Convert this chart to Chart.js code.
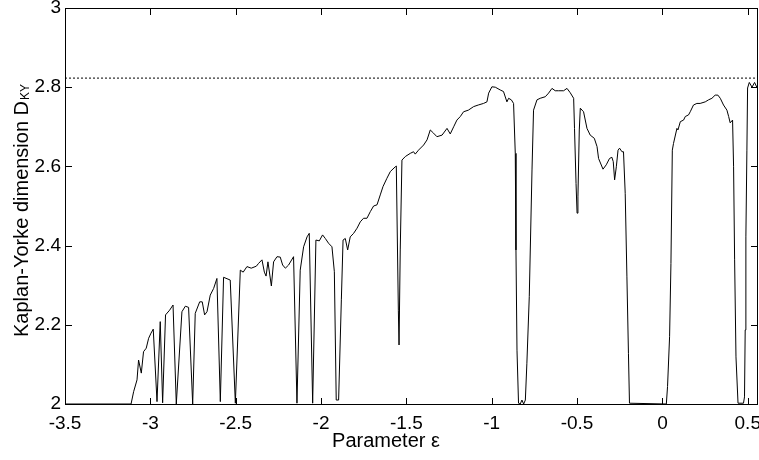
<!DOCTYPE html>
<html lang="en">
<head>
    <meta charset="UTF-8">
    <title>Kaplan-Yorke dimension</title>
    <script src="https://cdn.jsdelivr.net/npm/chart.js"></script>
    <style>
        body { margin: 0; background: #fff; }
        canvas { display: block; }
    </style>
</head>
<body>
    <canvas id="dkyChart" width="759" height="460"></canvas>

    <script>
        // parameter epsilon (x) and Kaplan-Yorke dimension (y)
        const eps = [
            -3.5, -3.113, -3.098, -3.078, -3.069, -3.053, -3.040, -3.024, -3.010, -2.996,
            -2.983, -2.961, -2.942, -2.928, -2.911, -2.887, -2.867, -2.848, -2.815, -2.795,
            -2.776, -2.752, -2.737, -2.711, -2.696, -2.682, -2.668, -2.649, -2.629, -2.610,
            -2.590, -2.571, -2.532, -2.502, -2.473, -2.456, -2.434, -2.409, -2.379, -2.366,
            -2.346, -2.332, -2.322, -2.311, -2.291, -2.278, -2.258, -2.239, -2.225, -2.209,
            -2.190, -2.161, -2.141, -2.122, -2.102, -2.082, -2.069, -2.049, -2.030, -2.010,
            -1.991, -1.975, -1.956, -1.936, -1.922, -1.911, -1.897, -1.881, -1.871, -1.858,
            -1.844, -1.829, -1.809, -1.789, -1.770, -1.751, -1.731, -1.711, -1.692, -1.672,
            -1.653, -1.637, -1.614, -1.594, -1.565, -1.559, -1.547, -1.543, -1.536, -1.526,
            -1.506, -1.477, -1.458, -1.448, -1.429, -1.399, -1.379, -1.360, -1.341, -1.321,
            -1.291, -1.262, -1.243, -1.223, -1.204, -1.184, -1.165, -1.137, -1.106, -1.079,
            -1.048, -1.028, -1.018, -0.999, -0.979, -0.950, -0.931, -0.911, -0.901, -0.885,
            -0.872, -0.862, -0.858, -0.852, -0.843, -0.833, -0.823, -0.813, -0.803, -0.794,
            -0.780, -0.764, -0.755, -0.735, -0.716, -0.686, -0.667, -0.647, -0.628, -0.608,
            -0.579, -0.559, -0.540, -0.520, -0.515, -0.506, -0.500, -0.495, -0.487, -0.481,
            -0.462, -0.442, -0.423, -0.399, -0.383, -0.374, -0.348, -0.329, -0.310, -0.296,
            -0.288, -0.280, -0.270, -0.260, -0.251, -0.237, -0.228, -0.218, -0.208, -0.199,
            -0.193, 0.023, 0.030, 0.042, 0.050, 0.058, 0.065, 0.085, 0.091, 0.105,
            0.124, 0.134, 0.153, 0.163, 0.182, 0.202, 0.221, 0.251, 0.270, 0.290,
            0.309, 0.325, 0.339, 0.358, 0.378, 0.388, 0.397, 0.411, 0.417, 0.423,
            0.431, 0.443, 0.475, 0.481, 0.485, 0.489, 0.495, 0.499, 0.509, 0.525,
            0.540, 0.553
        ];
        const dky = [
            2.0, 2.0, 2.031, 2.061, 2.111, 2.078, 2.132, 2.141, 2.166, 2.179,
            2.189, 2.006, 2.208, 2.003, 2.225, 2.237, 2.250, 2.0, 2.233, 2.247,
            2.244, 2.0, 2.229, 2.258, 2.258, 2.225, 2.233, 2.275, 2.292, 2.317,
            2.006, 2.320, 2.313, 2.002, 2.338, 2.333, 2.347, 2.343, 2.348, 2.355,
            2.364, 2.333, 2.323, 2.359, 2.298, 2.359, 2.372, 2.371, 2.351, 2.343,
            2.351, 2.372, 2.002, 2.338, 2.397, 2.422, 2.431, 2.002, 2.414, 2.412,
            2.427, 2.418, 2.406, 2.397, 2.334, 2.010, 2.010, 2.263, 2.414, 2.418,
            2.389, 2.422, 2.431, 2.444, 2.460, 2.469, 2.469, 2.486, 2.500, 2.503,
            2.528, 2.549, 2.570, 2.587, 2.599, 2.601, 2.237, 2.149, 2.389, 2.616,
            2.625, 2.633, 2.637, 2.631, 2.641, 2.654, 2.667, 2.692, 2.684, 2.675,
            2.679, 2.696, 2.682, 2.700, 2.717, 2.726, 2.738, 2.742, 2.751, 2.755,
            2.759, 2.763, 2.785, 2.801, 2.800, 2.793, 2.789, 2.763, 2.772, 2.768,
            2.759, 2.633, 2.389, 2.136, 2.002, 2.0, 2.010, 2.0, 2.010, 2.103,
            2.271, 2.591, 2.742, 2.768, 2.772, 2.776, 2.785, 2.797, 2.791, 2.791,
            2.791, 2.797, 2.786, 2.772, 2.696, 2.557, 2.482, 2.523, 2.692, 2.747,
            2.738, 2.696, 2.679, 2.671, 2.650, 2.620, 2.593, 2.604, 2.620, 2.623,
            2.612, 2.566, 2.599, 2.641, 2.646, 2.637, 2.637, 2.532, 2.321, 2.128,
            2.002, 2.0, 2.044, 2.170, 2.355, 2.641, 2.658, 2.696, 2.692, 2.713,
            2.717, 2.726, 2.730, 2.738, 2.755, 2.759, 2.759, 2.763, 2.768, 2.772,
            2.780, 2.780, 2.772, 2.755, 2.742, 2.726, 2.710, 2.717, 2.599, 2.364,
            2.119, 2.002, 2.002, 2.018, 2.187, 2.422, 2.641, 2.798, 2.812, 2.800,
            2.812, 2.800
        ];
        const dkyLimit = 2.823;   // dotted reference level
        const xTicks = [-3.5, -3, -2.5, -2, -1.5, -1, -0.5, 0, 0.5];
        const yTicks = [2, 2.2, 2.4, 2.6, 2.8, 3];
        const xMin = -3.5, xMax = 0.56;

        const font = "'Liberation Sans', Arial, sans-serif";

        // box around the axes, inward ticks on all four sides, axis titles
        const framePlugin = {
            id: 'frame',
            afterDraw(chart) {
                const c = chart.ctx;
                const sx = chart.scales.x, sy = chart.scales.y;
                const tl = 6;
                const L = Math.round(sx.getPixelForValue(xMin));
                const R = Math.round(sx.getPixelForValue(xMax)) - 1;
                const T = Math.round(sy.getPixelForValue(3));
                const B = Math.round(sy.getPixelForValue(2));
                c.save();
                c.fillStyle = '#000';
                c.fillRect(L, T, R - L + 1, 1);
                c.fillRect(L, B, R - L + 1, 1);
                c.fillRect(L, T, 1, B - T + 1);
                c.fillRect(R, T, 1, B - T + 1);
                xTicks.forEach(v => {
                    const px = Math.round(sx.getPixelForValue(v));
                    c.fillRect(px, B - tl, 1, tl);
                    c.fillRect(px, T + 1, 1, tl);
                });
                yTicks.forEach(v => {
                    const py = Math.round(sy.getPixelForValue(v));
                    c.fillRect(L + 1, py, tl, 1);
                    c.fillRect(R - tl, py, tl, 1);
                });

                c.textBaseline = 'alphabetic';
                c.font = '20px ' + font;
                c.textAlign = 'center';
                c.fillText('Parameter \u03b5', 386, 447);
                // y title, "KY" as a subscript
                c.translate(28, 337);
                c.rotate(-Math.PI / 2);
                c.textAlign = 'left';
                const main = 'Kaplan-Yorke dimension D';
                c.fillText(main, 0, 0);
                const w = c.measureText(main).width;
                c.font = '12px ' + font;
                c.fillText('KY', w + 1, 1);
                c.restore();
            }
        };

        new Chart(document.getElementById('dkyChart'), {
            type: 'line',
            data: {
                datasets: [{
                    data: eps.map((e, i) => ({ x: e, y: dky[i] })),
                    borderColor: '#000',
                    borderWidth: 1,
                    pointRadius: 0,
                    tension: 0
                }, {
                    data: [{ x: xMin, y: dkyLimit }, { x: xMax, y: dkyLimit }],
                    borderColor: '#000',
                    borderWidth: 1,
                    borderDash: [2, 2],
                    pointRadius: 0
                }]
            },
            options: {
                responsive: false,
                animation: false,
                layout: { padding: { top: 8, right: 1, left: 0, bottom: 0 } },
                plugins: { legend: { display: false }, tooltip: { enabled: false } },
                scales: {
                    x: {
                        type: 'linear',
                        min: xMin,
                        max: xMax,
                        afterBuildTicks: s => { s.ticks = xTicks.map(v => ({ value: v })); },
                        afterFit: s => { s.height = 56; s.paddingLeft = 0; s.paddingRight = 0; },
                        grid: { display: false, drawTicks: false },
                        border: { display: false },
                        ticks: {
                            color: '#000',
                            font: { family: font, size: 19 },
                            padding: 8,
                            maxRotation: 0,
                            autoSkip: false,
                            callback: v => String(v)
                        }
                    },
                    y: {
                        min: 2,
                        max: 3,
                        afterBuildTicks: s => { s.ticks = yTicks.map(v => ({ value: v })); },
                        afterFit: s => { s.width = 65; s.paddingTop = 0; s.paddingBottom = 0; },
                        grid: { display: false, drawTicks: false },
                        border: { display: false },
                        ticks: {
                            color: '#000',
                            font: { family: font, size: 19 },
                            padding: 4,
                            callback: v => String(v)
                        }
                    }
                }
            },
            plugins: [framePlugin]
        });
    </script>
</body>
</html>
